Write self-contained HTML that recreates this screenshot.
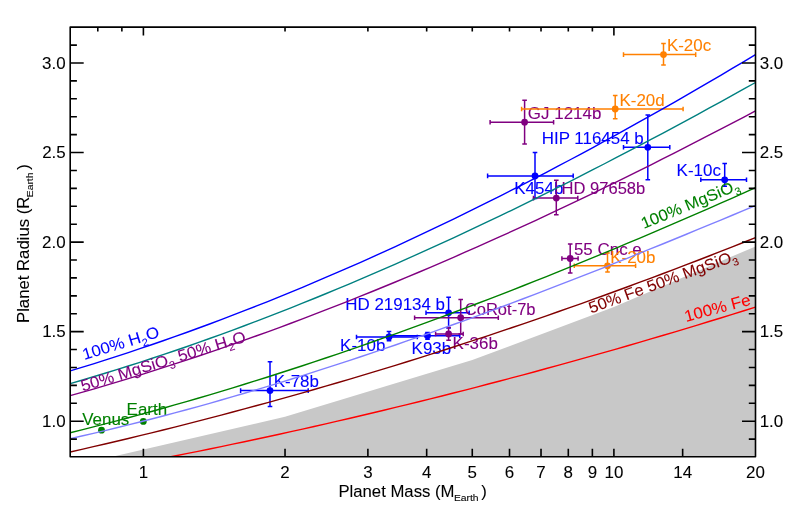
<!DOCTYPE html><html><head><meta charset="utf-8"><style>html,body{margin:0;padding:0;background:#fff}svg{display:block;will-change:transform}text{font-family:"Liberation Sans",sans-serif}</style></head><body>
<svg width="789" height="513" viewBox="0 0 789 513">
<rect width="789" height="513" fill="#fff"/>
<defs><clipPath id="c"><rect x="70.2" y="27.1" width="685.3" height="429.65"/></clipPath></defs>
<polygon fill="#c8c8c8" points="112.2,456.8 285.0,416.8 472.3,360.1 613.9,306.9 755.5,246.4 755.5,456.8"/>
<g clip-path="url(#c)">
<circle cx="101.5" cy="430.2" r="3.4" fill="#008000"/>
<text transform="translate(82.23,424.5) scale(1.06,1)" font-size="16.0" fill="#008000" stroke="#008000" stroke-width="0.08">Venus</text>
<circle cx="143.3" cy="421.4" r="3.4" fill="#008000"/>
<text transform="translate(126.61,415.4) scale(1.06,1)" font-size="16.0" fill="#008000" stroke="#008000" stroke-width="0.08">Earth</text>
<path stroke="#0000ff" stroke-width="1.5" fill="none" d="M240.6,390.6H308.2M240.6,388.3V392.90000000000003M308.2,388.3V392.90000000000003M270.0,361.8V406.4M267.7,361.8H272.3M267.7,406.4H272.3"/>
<circle cx="270.0" cy="390.6" r="3.4" fill="#0000ff"/>
<text transform="translate(273.71,387.0) scale(1.06,1)" font-size="16.0" fill="#0000ff" stroke="#0000ff" stroke-width="0.08">K-78b</text>
<path stroke="#0000ff" stroke-width="1.5" fill="none" d="M356.5,337.0H417.3M356.5,334.7V339.3M417.3,334.7V339.3M389.0,331.6V340.8M386.7,331.6H391.3M386.7,340.8H391.3"/>
<circle cx="389.0" cy="337.0" r="3.4" fill="#0000ff"/>
<text transform="translate(340.11,350.6) scale(1.06,1)" font-size="16.0" fill="#0000ff" stroke="#0000ff" stroke-width="0.08">K-10b</text>
<path stroke="#0000ff" stroke-width="1.5" fill="none" d="M389.8,335.7H459.8M389.8,333.4V338.0M459.8,333.4V338.0M427.5,332.4V339.2M425.2,332.4H429.8M425.2,339.2H429.8"/>
<circle cx="427.5" cy="335.7" r="3.4" fill="#0000ff"/>
<text transform="translate(411.61,353.6) scale(1.06,1)" font-size="16.0" fill="#0000ff" stroke="#0000ff" stroke-width="0.08">K93b</text>
<path stroke="#0000ff" stroke-width="1.5" fill="none" d="M426.0,312.8H469.2M426.0,310.5V315.1M469.2,310.5V315.1M448.6,297.2V328.0M446.3,297.2H450.90000000000003M446.3,328.0H450.90000000000003"/>
<circle cx="448.6" cy="312.8" r="3.4" fill="#0000ff"/>
<text transform="translate(345.21,309.5) scale(1.06,1)" font-size="16.0" fill="#0000ff" stroke="#0000ff" stroke-width="0.08">HD 219134 b</text>
<path stroke="#0000ff" stroke-width="1.5" fill="none" d="M487.6,175.9H573.2M487.6,173.6V178.20000000000002M573.2,173.6V178.20000000000002M535.0,152.5V198.6M532.7,152.5H537.3M532.7,198.6H537.3"/>
<circle cx="535.0" cy="175.9" r="3.4" fill="#0000ff"/>
<text transform="translate(514.31,194.0) scale(1.06,1)" font-size="16.0" fill="#0000ff" stroke="#0000ff" stroke-width="0.08">K454b</text>
<path stroke="#0000ff" stroke-width="1.5" fill="none" d="M623.5,147.3H669.8M623.5,145.0V149.60000000000002M669.8,145.0V149.60000000000002M647.8,115.1V179.8M645.5,115.1H650.0999999999999M645.5,179.8H650.0999999999999"/>
<circle cx="647.8" cy="147.3" r="3.4" fill="#0000ff"/>
<text transform="translate(541.71,144.0) scale(1.06,1)" font-size="16.0" fill="#0000ff" stroke="#0000ff" stroke-width="0.08">HIP 116454 b</text>
<path stroke="#0000ff" stroke-width="1.5" fill="none" d="M700.8,179.8H746.5M700.8,177.5V182.10000000000002M746.5,177.5V182.10000000000002M724.7,163.6V186.2M722.4000000000001,163.6H727.0M722.4000000000001,186.2H727.0"/>
<circle cx="724.7" cy="179.8" r="3.4" fill="#0000ff"/>
<text transform="translate(676.61,175.8) scale(1.06,1)" font-size="16.0" fill="#0000ff" stroke="#0000ff" stroke-width="0.08">K-10c</text>
<path stroke="#800080" stroke-width="1.5" fill="none" d="M435.6,334.0H463.2M435.6,331.7V336.3M463.2,331.7V336.3M448.6,327.5V340.2M446.3,327.5H450.90000000000003M446.3,340.2H450.90000000000003"/>
<circle cx="448.6" cy="334.0" r="3.4" fill="#800080"/>
<text transform="translate(452.61,349.1) scale(1.06,1)" font-size="16.0" fill="#800080" stroke="#800080" stroke-width="0.08">K-36b</text>
<path stroke="#800080" stroke-width="1.5" fill="none" d="M414.6,317.7H498.3M414.6,315.4V320.0M498.3,315.4V320.0M460.7,299.6V334.1M458.4,299.6H463.0M458.4,334.1H463.0"/>
<circle cx="460.7" cy="317.7" r="3.4" fill="#800080"/>
<text transform="translate(464.76,314.5) scale(1.035,1)" font-size="16.0" fill="#800080" stroke="#800080" stroke-width="0.08">CoRot-7b</text>
<path stroke="#800080" stroke-width="1.5" fill="none" d="M561.9,258.5H578.1M561.9,256.2V260.8M578.1,256.2V260.8M570.2,244.0V272.9M567.9000000000001,244.0H572.5M567.9000000000001,272.9H572.5"/>
<circle cx="570.2" cy="258.5" r="3.4" fill="#800080"/>
<text transform="translate(573.92,254.8) scale(1.06,1)" font-size="16.0" fill="#800080" stroke="#800080" stroke-width="0.08">55 Cnc e</text>
<path stroke="#800080" stroke-width="1.5" fill="none" d="M533.5,198.1H577.8M533.5,195.79999999999998V200.4M577.8,195.79999999999998V200.4M556.3,180.3V214.8M554.0,180.3H558.5999999999999M554.0,214.8H558.5999999999999"/>
<circle cx="556.3" cy="198.1" r="3.4" fill="#800080"/>
<text transform="translate(561.54,194.0) scale(1.035,1)" font-size="16.0" fill="#800080" stroke="#800080" stroke-width="0.08">HD 97658b</text>
<path stroke="#800080" stroke-width="1.5" fill="none" d="M490.1,122.2H553.6M490.1,119.9V124.5M553.6,119.9V124.5M524.6,100.3V143.9M522.3000000000001,100.3H526.9M522.3000000000001,143.9H526.9"/>
<circle cx="524.6" cy="122.2" r="3.4" fill="#800080"/>
<text transform="translate(527.85,119.0) scale(1.06,1)" font-size="16.0" fill="#800080" stroke="#800080" stroke-width="0.08">GJ 1214b</text>
<path stroke="#ff8000" stroke-width="1.5" fill="none" d="M574.3,265.8H635.6M574.3,263.5V268.1M635.6,263.5V268.1M607.5,253.1V272.1M605.2,253.1H609.8M605.2,272.1H609.8"/>
<circle cx="607.5" cy="265.8" r="3.4" fill="#ff8000"/>
<text transform="translate(610.21,263.0) scale(1.06,1)" font-size="16.0" fill="#ff8000" stroke="#ff8000" stroke-width="0.08">K-20b</text>
<path stroke="#ff8000" stroke-width="1.5" fill="none" d="M521.6,109.0H683.1M521.6,106.7V111.3M683.1,106.7V111.3M615.2,95.5V118.8M612.9000000000001,95.5H617.5M612.9000000000001,118.8H617.5"/>
<circle cx="615.2" cy="109.0" r="3.4" fill="#ff8000"/>
<text transform="translate(619.51,105.5) scale(1.06,1)" font-size="16.0" fill="#ff8000" stroke="#ff8000" stroke-width="0.08">K-20d</text>
<path stroke="#ff8000" stroke-width="1.5" fill="none" d="M623.5,54.6H695.7M623.5,52.300000000000004V56.9M695.7,52.300000000000004V56.9M663.5,43.4V65.0M661.2,43.4H665.8M661.2,65.0H665.8"/>
<circle cx="663.5" cy="54.6" r="3.4" fill="#ff8000"/>
<text transform="translate(666.91,50.7) scale(1.06,1)" font-size="16.0" fill="#ff8000" stroke="#ff8000" stroke-width="0.08">K-20c</text>
</g>
<g clip-path="url(#c)" fill="none" stroke-width="1.4">
<path d="M70.2,475.53 L81.8,473.47 L93.4,471.38 L105.0,469.26 L116.7,467.11 L128.3,464.94 L139.9,462.74 L151.5,460.51 L163.1,458.26 L174.7,455.98 L186.4,453.67 L198.0,451.33 L209.6,448.97 L221.2,446.57 L232.8,444.16 L244.4,441.71 L256.0,439.24 L267.7,436.74 L279.3,434.21 L290.9,431.66 L302.5,429.07 L314.1,426.46 L325.7,423.83 L337.4,421.16 L349.0,418.47 L360.6,415.75 L372.2,413.01 L383.8,410.24 L395.4,407.44 L407.0,404.61 L418.7,401.75 L430.3,398.87 L441.9,395.96 L453.5,393.03 L465.1,390.06 L476.7,387.07 L488.3,384.05 L500.0,381.01 L511.6,377.94 L523.2,374.84 L534.8,371.71 L546.4,368.55 L558.0,365.37 L569.7,362.16 L581.3,358.93 L592.9,355.66 L604.5,352.37 L616.1,349.05 L627.7,345.71 L639.3,342.34 L651.0,338.94 L662.6,335.51 L674.2,332.05 L685.8,328.57 L697.4,325.06 L709.0,321.53 L720.7,317.96 L732.3,314.37 L743.9,310.76 L755.5,307.11" stroke="#ff0000"/>
<path d="M70.2,451.96 L81.8,449.33 L93.4,446.67 L105.0,443.98 L116.7,441.25 L128.3,438.48 L139.9,435.68 L151.5,432.85 L163.1,429.98 L174.7,427.07 L186.4,424.14 L198.0,421.16 L209.6,418.16 L221.2,415.11 L232.8,412.04 L244.4,408.92 L256.0,405.78 L267.7,402.60 L279.3,399.38 L290.9,396.13 L302.5,392.84 L314.1,389.52 L325.7,386.17 L337.4,382.78 L349.0,379.35 L360.6,375.89 L372.2,372.40 L383.8,368.87 L395.4,365.31 L407.0,361.71 L418.7,358.08 L430.3,354.41 L441.9,350.71 L453.5,346.97 L465.1,343.20 L476.7,339.39 L488.3,335.55 L500.0,331.68 L511.6,327.77 L523.2,323.82 L534.8,319.84 L546.4,315.83 L558.0,311.78 L569.7,307.69 L581.3,303.58 L592.9,299.42 L604.5,295.23 L616.1,291.01 L627.7,286.75 L639.3,282.46 L651.0,278.14 L662.6,273.77 L674.2,269.38 L685.8,264.95 L697.4,260.48 L709.0,255.98 L720.7,251.44 L732.3,246.87 L743.9,242.27 L755.5,237.63" stroke="#800000"/>
<path d="M70.2,438.67 L81.8,436.03 L93.4,433.33 L105.0,430.58 L116.7,427.77 L128.3,424.90 L139.9,421.98 L151.5,419.00 L163.1,415.97 L174.7,412.88 L186.4,409.74 L198.0,406.55 L209.6,403.31 L221.2,400.01 L232.8,396.67 L244.4,393.28 L256.0,389.83 L267.7,386.34 L279.3,382.80 L290.9,379.22 L302.5,375.59 L314.1,371.91 L325.7,368.19 L337.4,364.43 L349.0,360.62 L360.6,356.77 L372.2,352.88 L383.8,348.94 L395.4,344.97 L407.0,340.95 L418.7,336.90 L430.3,332.81 L441.9,328.68 L453.5,324.51 L465.1,320.31 L476.7,316.07 L488.3,311.80 L500.0,307.49 L511.6,303.15 L523.2,298.78 L534.8,294.37 L546.4,289.94 L558.0,285.47 L569.7,280.97 L581.3,276.44 L592.9,271.89 L604.5,267.30 L616.1,262.69 L627.7,258.05 L639.3,253.39 L651.0,248.70 L662.6,243.99 L674.2,239.25 L685.8,234.49 L697.4,229.71 L709.0,224.90 L720.7,220.08 L732.3,215.23 L743.9,210.36 L755.5,205.48" stroke="#8080ff"/>
<path d="M70.2,432.70 L81.8,429.82 L93.4,426.89 L105.0,423.91 L116.7,420.87 L128.3,417.79 L139.9,414.65 L151.5,411.47 L163.1,408.23 L174.7,404.95 L186.4,401.61 L198.0,398.23 L209.6,394.80 L221.2,391.33 L232.8,387.81 L244.4,384.24 L256.0,380.62 L267.7,376.96 L279.3,373.25 L290.9,369.50 L302.5,365.71 L314.1,361.87 L325.7,357.98 L337.4,354.06 L349.0,350.09 L360.6,346.08 L372.2,342.03 L383.8,337.93 L395.4,333.80 L407.0,329.62 L418.7,325.41 L430.3,321.15 L441.9,316.86 L453.5,312.53 L465.1,308.16 L476.7,303.75 L488.3,299.30 L500.0,294.82 L511.6,290.30 L523.2,285.75 L534.8,281.16 L546.4,276.53 L558.0,271.87 L569.7,267.17 L581.3,262.44 L592.9,257.68 L604.5,252.89 L616.1,248.06 L627.7,243.20 L639.3,238.31 L651.0,233.38 L662.6,228.43 L674.2,223.44 L685.8,218.43 L697.4,213.38 L709.0,208.31 L720.7,203.21 L732.3,198.07 L743.9,192.92 L755.5,187.73" stroke="#008000"/>
<path d="M70.2,395.68 L81.8,392.40 L93.4,389.05 L105.0,385.64 L116.7,382.17 L128.3,378.64 L139.9,375.05 L151.5,371.41 L163.1,367.70 L174.7,363.94 L186.4,360.12 L198.0,356.24 L209.6,352.31 L221.2,348.32 L232.8,344.27 L244.4,340.17 L256.0,336.01 L267.7,331.80 L279.3,327.54 L290.9,323.22 L302.5,318.85 L314.1,314.42 L325.7,309.94 L337.4,305.41 L349.0,300.83 L360.6,296.19 L372.2,291.51 L383.8,286.77 L395.4,281.98 L407.0,277.15 L418.7,272.26 L430.3,267.33 L441.9,262.34 L453.5,257.31 L465.1,252.23 L476.7,247.11 L488.3,241.93 L500.0,236.71 L511.6,231.44 L523.2,226.13 L534.8,220.77 L546.4,215.37 L558.0,209.92 L569.7,204.43 L581.3,198.90 L592.9,193.32 L604.5,187.69 L616.1,182.03 L627.7,176.32 L639.3,170.57 L651.0,164.78 L662.6,158.95 L674.2,153.08 L685.8,147.17 L697.4,141.22 L709.0,135.23 L720.7,129.20 L732.3,123.13 L743.9,117.02 L755.5,110.88" stroke="#800080"/>
<path d="M70.2,383.61 L81.8,380.24 L93.4,376.79 L105.0,373.28 L116.7,369.69 L128.3,366.03 L139.9,362.31 L151.5,358.51 L163.1,354.65 L174.7,350.72 L186.4,346.72 L198.0,342.66 L209.6,338.53 L221.2,334.33 L232.8,330.07 L244.4,325.75 L256.0,321.37 L267.7,316.92 L279.3,312.41 L290.9,307.84 L302.5,303.20 L314.1,298.51 L325.7,293.76 L337.4,288.95 L349.0,284.09 L360.6,279.16 L372.2,274.18 L383.8,269.15 L395.4,264.06 L407.0,258.91 L418.7,253.71 L430.3,248.46 L441.9,243.16 L453.5,237.80 L465.1,232.39 L476.7,226.93 L488.3,221.43 L500.0,215.87 L511.6,210.26 L523.2,204.61 L534.8,198.91 L546.4,193.16 L558.0,187.37 L569.7,181.53 L581.3,175.65 L592.9,169.72 L604.5,163.75 L616.1,157.74 L627.7,151.68 L639.3,145.59 L651.0,139.45 L662.6,133.28 L674.2,127.06 L685.8,120.81 L697.4,114.52 L709.0,108.19 L720.7,101.82 L732.3,95.42 L743.9,88.98 L755.5,82.51" stroke="#008080"/>
<path d="M70.2,370.94 L81.8,367.41 L93.4,363.82 L105.0,360.15 L116.7,356.41 L128.3,352.60 L139.9,348.71 L151.5,344.76 L163.1,340.74 L174.7,336.66 L186.4,332.50 L198.0,328.28 L209.6,323.98 L221.2,319.63 L232.8,315.20 L244.4,310.71 L256.0,306.15 L267.7,301.53 L279.3,296.84 L290.9,292.09 L302.5,287.28 L314.1,282.40 L325.7,277.46 L337.4,272.46 L349.0,267.39 L360.6,262.27 L372.2,257.08 L383.8,251.83 L395.4,246.52 L407.0,241.16 L418.7,235.73 L430.3,230.24 L441.9,224.70 L453.5,219.10 L465.1,213.44 L476.7,207.72 L488.3,201.95 L500.0,196.12 L511.6,190.24 L523.2,184.30 L534.8,178.30 L546.4,172.26 L558.0,166.15 L569.7,160.00 L581.3,153.79 L592.9,147.53 L604.5,141.22 L616.1,134.85 L627.7,128.44 L639.3,121.97 L651.0,115.45 L662.6,108.89 L674.2,102.27 L685.8,95.61 L697.4,88.89 L709.0,82.13 L720.7,75.32 L732.3,68.47 L743.9,61.57 L755.5,54.62" stroke="#0000ff"/>
</g>
<text transform="translate(84.2,360.0) rotate(-17) scale(1.06,1)" font-size="16.0" fill="#0000ff" stroke="#0000ff" stroke-width="0.08"><tspan>100% H</tspan><tspan font-size="10.56" dy="4.48">2</tspan><tspan dy="-4.48">O</tspan></text>
<text transform="translate(82.8,391.5) rotate(-17) scale(1.06,1)" font-size="16.0" fill="#800080" stroke="#800080" stroke-width="0.08"><tspan>50% MgSiO</tspan><tspan font-size="10.56" dy="4.48">3</tspan><tspan dy="-4.48"> 50% H</tspan><tspan font-size="10.56" dy="4.48">2</tspan><tspan dy="-4.48">O</tspan></text>
<text transform="translate(643.7,229.1) rotate(-22.4) scale(1.045,1)" font-size="16.0" fill="#008000" stroke="#008000" stroke-width="0.08"><tspan>100% MgSiO</tspan><tspan font-size="10.56" dy="4.48">3</tspan></text>
<text transform="translate(591,313.5) rotate(-20) scale(1.04,1)" font-size="16.0" fill="#800000" stroke="#800000" stroke-width="0.08"><tspan>50% Fe 50% MgSiO</tspan><tspan font-size="10.56" dy="4.48">3</tspan></text>
<text transform="translate(686,322) rotate(-15) scale(1.06,1)" font-size="16.0" fill="#ff0000" stroke="#ff0000" stroke-width="0.08"><tspan>100% Fe</tspan></text>
<g stroke="#000" stroke-width="1.6" fill="none" stroke-linejoin="round">
<rect x="70.2" y="27.1" width="685.3" height="429.65"/>
<path d="M70.2,439.11h6.7M755.5,439.11h-6.7M70.2,421.20h13.5M755.5,421.20h-13.5M70.2,403.29h6.7M755.5,403.29h-6.7M70.2,385.38h6.7M755.5,385.38h-6.7M70.2,367.47h6.7M755.5,367.47h-6.7M70.2,349.56h6.7M755.5,349.56h-6.7M70.2,331.65h13.5M755.5,331.65h-13.5M70.2,313.74h6.7M755.5,313.74h-6.7M70.2,295.83h6.7M755.5,295.83h-6.7M70.2,277.92h6.7M755.5,277.92h-6.7M70.2,260.01h6.7M755.5,260.01h-6.7M70.2,242.10h13.5M755.5,242.10h-13.5M70.2,224.19h6.7M755.5,224.19h-6.7M70.2,206.28h6.7M755.5,206.28h-6.7M70.2,188.37h6.7M755.5,188.37h-6.7M70.2,170.46h6.7M755.5,170.46h-6.7M70.2,152.55h13.5M755.5,152.55h-13.5M70.2,134.64h6.7M755.5,134.64h-6.7M70.2,116.73h6.7M755.5,116.73h-6.7M70.2,98.82h6.7M755.5,98.82h-6.7M70.2,80.91h6.7M755.5,80.91h-6.7M70.2,63.00h13.5M755.5,63.00h-13.5M70.2,45.09h6.7M755.5,45.09h-6.7M97.80,27.1v4.4M121.87,27.1v4.4M143.40,27.1v8.5M285.03,27.1v4.4M367.89,27.1v4.4M426.67,27.1v4.4M472.27,27.1v4.4M509.52,27.1v4.4M541.02,27.1v4.4M568.30,27.1v4.4M592.37,27.1v4.4M613.90,27.1v8.5M143.40,456.75v-8M285.03,456.75v-8M367.89,456.75v-8M426.67,456.75v-8M472.27,456.75v-8M509.52,456.75v-8M541.02,456.75v-8M568.30,456.75v-8M592.37,456.75v-8M613.90,456.75v-8M682.65,456.75v-8"/>
</g>
<text transform="translate(138.68,477.8) scale(1.06,1)" font-size="16.0" fill="#000" stroke="#000" stroke-width="0.08">1</text>
<text transform="translate(280.32,477.8) scale(1.06,1)" font-size="16.0" fill="#000" stroke="#000" stroke-width="0.08">2</text>
<text transform="translate(363.17,477.8) scale(1.06,1)" font-size="16.0" fill="#000" stroke="#000" stroke-width="0.08">3</text>
<text transform="translate(421.95,477.8) scale(1.06,1)" font-size="16.0" fill="#000" stroke="#000" stroke-width="0.08">4</text>
<text transform="translate(467.55,477.8) scale(1.06,1)" font-size="16.0" fill="#000" stroke="#000" stroke-width="0.08">5</text>
<text transform="translate(504.80,477.8) scale(1.06,1)" font-size="16.0" fill="#000" stroke="#000" stroke-width="0.08">6</text>
<text transform="translate(536.30,477.8) scale(1.06,1)" font-size="16.0" fill="#000" stroke="#000" stroke-width="0.08">7</text>
<text transform="translate(563.59,477.8) scale(1.06,1)" font-size="16.0" fill="#000" stroke="#000" stroke-width="0.08">8</text>
<text transform="translate(587.65,477.8) scale(1.06,1)" font-size="16.0" fill="#000" stroke="#000" stroke-width="0.08">9</text>
<text transform="translate(604.47,477.8) scale(1.06,1)" font-size="16.0" fill="#000" stroke="#000" stroke-width="0.08">10</text>
<text transform="translate(673.22,477.8) scale(1.06,1)" font-size="16.0" fill="#000" stroke="#000" stroke-width="0.08">14</text>
<text transform="translate(746.10,477.8) scale(1.06,1)" font-size="16.0" fill="#000" stroke="#000" stroke-width="0.08">20</text>
<text transform="translate(42.09,426.7) scale(1.06,1)" font-size="16.0" fill="#000" stroke="#000" stroke-width="0.08">1.0</text>
<text transform="translate(759.70,426.7) scale(1.06,1)" font-size="16.0" fill="#000" stroke="#000" stroke-width="0.08">1.0</text>
<text transform="translate(42.14,337.1) scale(1.06,1)" font-size="16.0" fill="#000" stroke="#000" stroke-width="0.08">1.5</text>
<text transform="translate(759.70,337.1) scale(1.06,1)" font-size="16.0" fill="#000" stroke="#000" stroke-width="0.08">1.5</text>
<text transform="translate(42.09,247.6) scale(1.06,1)" font-size="16.0" fill="#000" stroke="#000" stroke-width="0.08">2.0</text>
<text transform="translate(759.70,247.6) scale(1.06,1)" font-size="16.0" fill="#000" stroke="#000" stroke-width="0.08">2.0</text>
<text transform="translate(42.14,158.1) scale(1.06,1)" font-size="16.0" fill="#000" stroke="#000" stroke-width="0.08">2.5</text>
<text transform="translate(759.70,158.1) scale(1.06,1)" font-size="16.0" fill="#000" stroke="#000" stroke-width="0.08">2.5</text>
<text transform="translate(42.09,68.5) scale(1.06,1)" font-size="16.0" fill="#000" stroke="#000" stroke-width="0.08">3.0</text>
<text transform="translate(759.70,68.5) scale(1.06,1)" font-size="16.0" fill="#000" stroke="#000" stroke-width="0.08">3.0</text>
<text transform="translate(338.41,497.0) scale(1.045,1)" font-size="16.0" fill="#000" stroke="#000" stroke-width="0.08"><tspan>Planet Mass (M</tspan><tspan font-size="9.92" dy="3.8" dx="-0.6">Earth</tspan><tspan dy="-3.8" dx="2.6">)</tspan></text>
<text transform="translate(29.1,322.99) rotate(-90) scale(1.045,1)" font-size="16.0" fill="#000" stroke="#000" stroke-width="0.08"><tspan>Planet Radius (R</tspan><tspan font-size="9.92" dy="3.8" dx="-0.6">Earth</tspan><tspan dy="-3.8" dx="2.6">)</tspan></text>
</svg></body></html>
